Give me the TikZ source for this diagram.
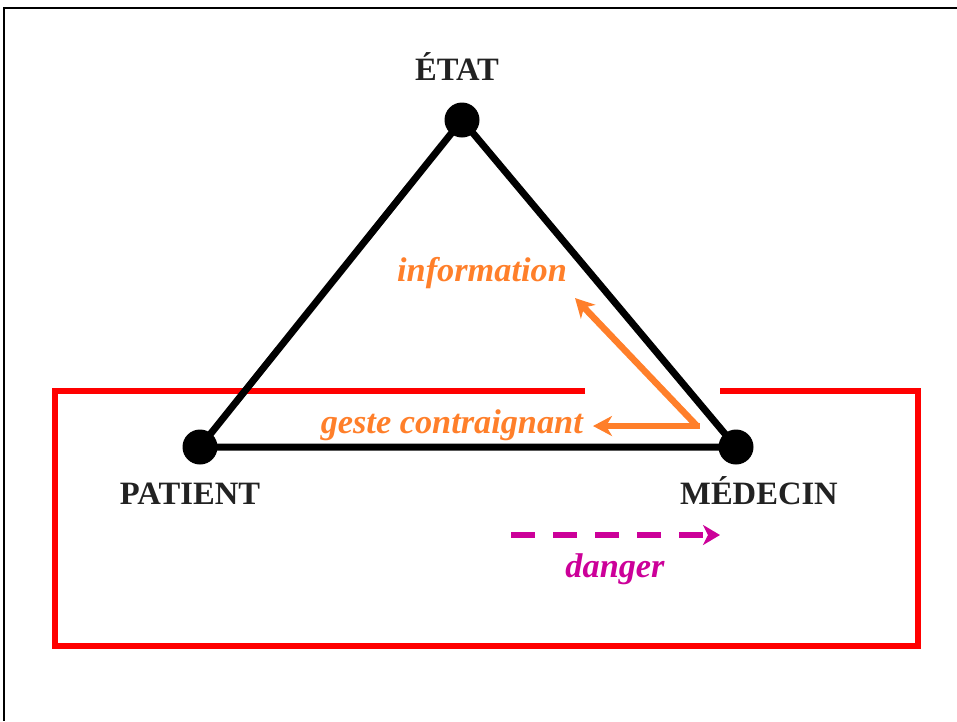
\documentclass[tikz,border=0pt]{standalone}
\usepackage{fontspec}
\setmainfont{Liberation Serif}
\usetikzlibrary{arrows.meta}
\definecolor{inkgray}{HTML}{222222}
\definecolor{flowor}{HTML}{FF7F2A}
\definecolor{riskmag}{HTML}{CC0099}
\definecolor{zonered}{HTML}{FF0000}
\tikzset{
  pole/.style={circle, fill=black, inner sep=0pt, minimum size=35pt},
  actor/.style={font=\fontsize{32.6}{33}\selectfont\bfseries, text=inkgray, anchor=base, inner sep=0pt},
  flowlabel/.style={font=\fontsize{34.3}{35}\selectfont\bfseries\itshape, text=flowor, anchor=base, inner sep=0pt},
  risklabel/.style={font=\fontsize{34.3}{35}\selectfont\bfseries\itshape, text=riskmag, anchor=base, inner sep=0pt},
  relation/.style={line width=7pt, black},
  flow/.style={line width=6.5pt, flowor, -{Stealth[length=19pt,width=20pt,inset=6pt]}},
  risk/.style={line width=6.5pt, riskmag, dash pattern=on 24pt off 18pt, -{Stealth[length=17pt,width=20pt,inset=5pt]}},
}
\begin{document}
\begin{tikzpicture}[x=1pt,y=-1pt]
  \useasboundingbox (0,0) rectangle (957,721);
  % outer frame (top and left edges)
  \draw[line width=2.6pt] (957,8) -- (4,8) -- (4,721);
  % zone of constraint, open at the top near the physician
  \draw[zonered, line width=6pt] (585,391) -- (55,391) -- (55,646) -- (918,646) -- (918,391) -- (720,391);

  % the three poles
  \node[pole] (etat) at (462,120) {};
  \node[pole] (patient) at (200,447) {};
  \node[pole] (medecin) at (736,447) {};
  \draw[relation] (etat.center) -- (patient.center) -- (medecin.center) -- cycle;

  \node[actor] (letat) at (457,80) {ÉTAT};
  \node[actor] (lpatient) at (190,504) {PATIENT};
  \node[actor] (lmedecin) at (759,504) {MÉDECIN};

  % physician's actions
  \coordinate (pivot) at (697,426);
  \coordinate (infoend) at (575,298);
  \coordinate (gesteend) at (593,426);
  \draw[flow] (pivot) -- (infoend);
  \draw[flow] ([xshift=2.5pt]pivot) -- (gesteend);
  \node[flowlabel] (linfo) at (482,281) {information};
  \node[flowlabel, anchor=base east] (lgeste) at (583,433) {geste contraignant};

  % danger
  \coordinate (dangerstart) at (511,535);
  \coordinate (dangerend) at (720,535);
  \draw[risk] (dangerstart) -- (dangerend);
  \node[risklabel] (ldanger) at (615,577) {danger};
\end{tikzpicture}
\end{document}
